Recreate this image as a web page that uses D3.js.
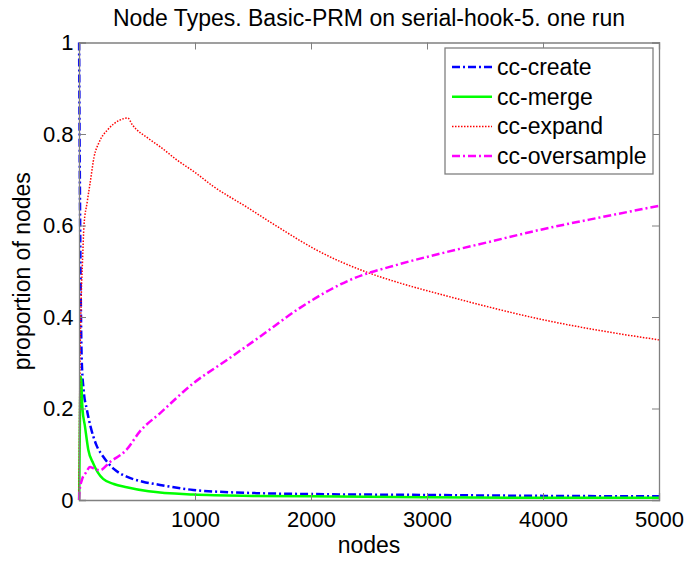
<!DOCTYPE html>
<html>
<head>
<meta charset="utf-8">
<script src="https://cdn.jsdelivr.net/npm/d3@7"></script>
<style>
  body { margin: 0; background: #fff; }
  text { font-family: "Liberation Sans", Arial, sans-serif; fill: #000; }
</style>
</head>
<body>
<div id="container"></div>
<script>
const width = 688,
  height = 564,
  margin = { top: 42.5, bottom: 64, left: 79, right: 29 };

// data (node count, proportion)
const createX = [1, 3, 5, 10, 15, 23, 40, 66, 100, 150, 208, 300, 411, 550, 698, 985, 1532, 2000, 3000, 4000, 5000];
const createY = [1.0, 0.9, 0.8, 0.6, 0.45, 0.31, 0.24, 0.2, 0.16, 0.12, 0.095, 0.068, 0.051, 0.04, 0.033, 0.022, 0.015, 0.013, 0.011, 0.009, 0.008];

const mergeX = [1, 5, 10, 16, 30, 52, 80, 123, 208, 300, 411, 600, 985, 1500, 2000, 3000, 4000, 5000];
const mergeY = [0, 0.1, 0.22, 0.27, 0.2, 0.16, 0.11, 0.08, 0.046, 0.035, 0.028, 0.019, 0.012, 0.009, 0.008, 0.006, 0.005, 0.005];

const expandX = [1, 5, 10, 20, 30, 43, 70, 100, 130, 170, 250, 350, 420, 460, 600, 700, 845, 1000, 1155, 1448, 1620, 1733, 2050, 2480, 2770, 3170, 3500, 4000, 4500, 5000];
const expandY = [0, 0.2, 0.32, 0.45, 0.52, 0.6, 0.65, 0.7, 0.75, 0.78, 0.81, 0.83, 0.835, 0.82, 0.79, 0.772, 0.743, 0.716, 0.686, 0.64, 0.612, 0.594, 0.546, 0.498, 0.474, 0.446, 0.424, 0.394, 0.37, 0.35];

const overX = [1, 5, 25, 60, 95, 120, 180, 267, 410, 525, 700, 985, 1275, 1560, 1905, 2336, 2770, 3170, 3500, 4000, 4500, 5000];
const overY = [0, 0.02, 0.044, 0.06, 0.072, 0.07, 0.065, 0.083, 0.11, 0.15, 0.19, 0.255, 0.306, 0.357, 0.42, 0.481, 0.516, 0.542, 0.562, 0.592, 0.618, 0.643];

const seriesNames = ["cc-create", "cc-merge", "cc-expand", "cc-oversample"];
const xTicks = [1000, 2000, 3000, 4000, 5000];
const yTicks = [0, 0.2, 0.4, 0.6, 0.8, 1];

const series = [
  { name: seriesNames[0], xs: createX, ys: createY, color: "#0000ff", dash: "8,3,2,3", w: 2.5 },
  { name: seriesNames[1], xs: mergeX, ys: mergeY, color: "#00ff00", dash: null, w: 2.5 },
  { name: seriesNames[2], xs: expandX, ys: expandY, color: "#ff0000", dash: "1.5,1.5", w: 1.5 },
  { name: seriesNames[3], xs: overX, ys: overY, color: "#ff00ff", dash: "8,3,2,3", w: 2.5 }
];

const xScale = d3.scaleLinear()
  .domain([0, 5000])
  .range([margin.left, width - margin.right]);

const yScale = d3.scaleLinear()
  .domain([0, 1])
  .range([height - margin.bottom, margin.top]);

const svg = d3.select("#container")
  .append("svg")
  .attr("width", width)
  .attr("height", height);

// title, centred over the axes
svg.append("text")
  .attr("x", (margin.left + width - margin.right) / 2)
  .attr("y", 26)
  .attr("text-anchor", "middle")
  .attr("font-size", 23)
  .text("Node Types. Basic-PRM on serial-hook-5. one run");

// lines
const line = d3.line()
  .curve(d3.curveMonotoneX)
  .x(d => xScale(d[0]))
  .y(d => yScale(d[1]));

const plot = svg.append("g");
series.forEach(s => {
  plot.append("path")
    .datum(s.xs.map((x, i) => [x, s.ys[i]]))
    .attr("fill", "none")
    .attr("stroke", s.color)
    .attr("stroke-width", s.w)
    .attr("stroke-dasharray", s.dash)
    .attr("d", line);
});

// axes - ticks inside like matlab
const tickLen = 7;
const axisColor = "#808080";

const xAxis = d3.axisBottom(xScale).tickValues(xTicks).tickSize(-tickLen).tickPadding(11.5).tickFormat(d3.format("d"));
const gx = svg.append("g")
  .attr("transform", `translate(0, ${height - margin.bottom})`)
  .call(xAxis);

const xTop = d3.axisTop(xScale).tickValues(xTicks).tickSize(-tickLen).tickFormat("");
const gxt = svg.append("g")
  .attr("transform", `translate(0, ${margin.top})`)
  .call(xTop);

const yAxis = d3.axisLeft(yScale).tickValues(yTicks).tickSize(-tickLen).tickPadding(5.5).tickFormat(d => d);
const gy = svg.append("g")
  .attr("transform", `translate(${margin.left}, 0)`)
  .call(yAxis);

const yRight = d3.axisRight(yScale).tickValues(yTicks).tickSize(-tickLen).tickFormat("");
const gyr = svg.append("g")
  .attr("transform", `translate(${width - margin.right}, 0)`)
  .call(yRight);

[gx, gxt, gy, gyr].forEach(g => {
  g.selectAll("path.domain").attr("stroke", axisColor).attr("stroke-width", 1.3);
  g.selectAll(".tick line").attr("stroke", axisColor);
  g.selectAll(".tick text")
    .attr("font-family", "Liberation Sans, Arial, sans-serif")
    .attr("font-size", 22)
    .attr("fill", "#000");
});

// axis labels
svg.append("text")
  .attr("x", (margin.left + width - margin.right) / 2)
  .attr("y", 553)
  .attr("text-anchor", "middle")
  .attr("font-size", 23)
  .text("nodes");

svg.append("text")
  .attr("transform", `translate(30, ${(margin.top + height - margin.bottom) / 2}) rotate(-90)`)
  .attr("text-anchor", "middle")
  .attr("font-size", 23)
  .text("proportion of nodes");

// legend
const legend = svg.append("g").attr("transform", "translate(445, 48)");
legend.append("rect")
  .attr("width", 208)
  .attr("height", 126)
  .attr("fill", "#fff")
  .attr("stroke", axisColor)
  .attr("stroke-width", 1.3);

series.forEach((s, i) => {
  const y = 19 + i * 29.7;
  legend.append("line")
    .attr("x1", 7).attr("x2", 47)
    .attr("y1", y).attr("y2", y)
    .attr("stroke", s.color)
    .attr("stroke-width", s.w)
    .attr("stroke-dasharray", s.dash);
  legend.append("text")
    .attr("x", 52)
    .attr("y", y + 8)
    .attr("font-size", 23)
    .text(s.name);
});
</script>
</body>
</html>
